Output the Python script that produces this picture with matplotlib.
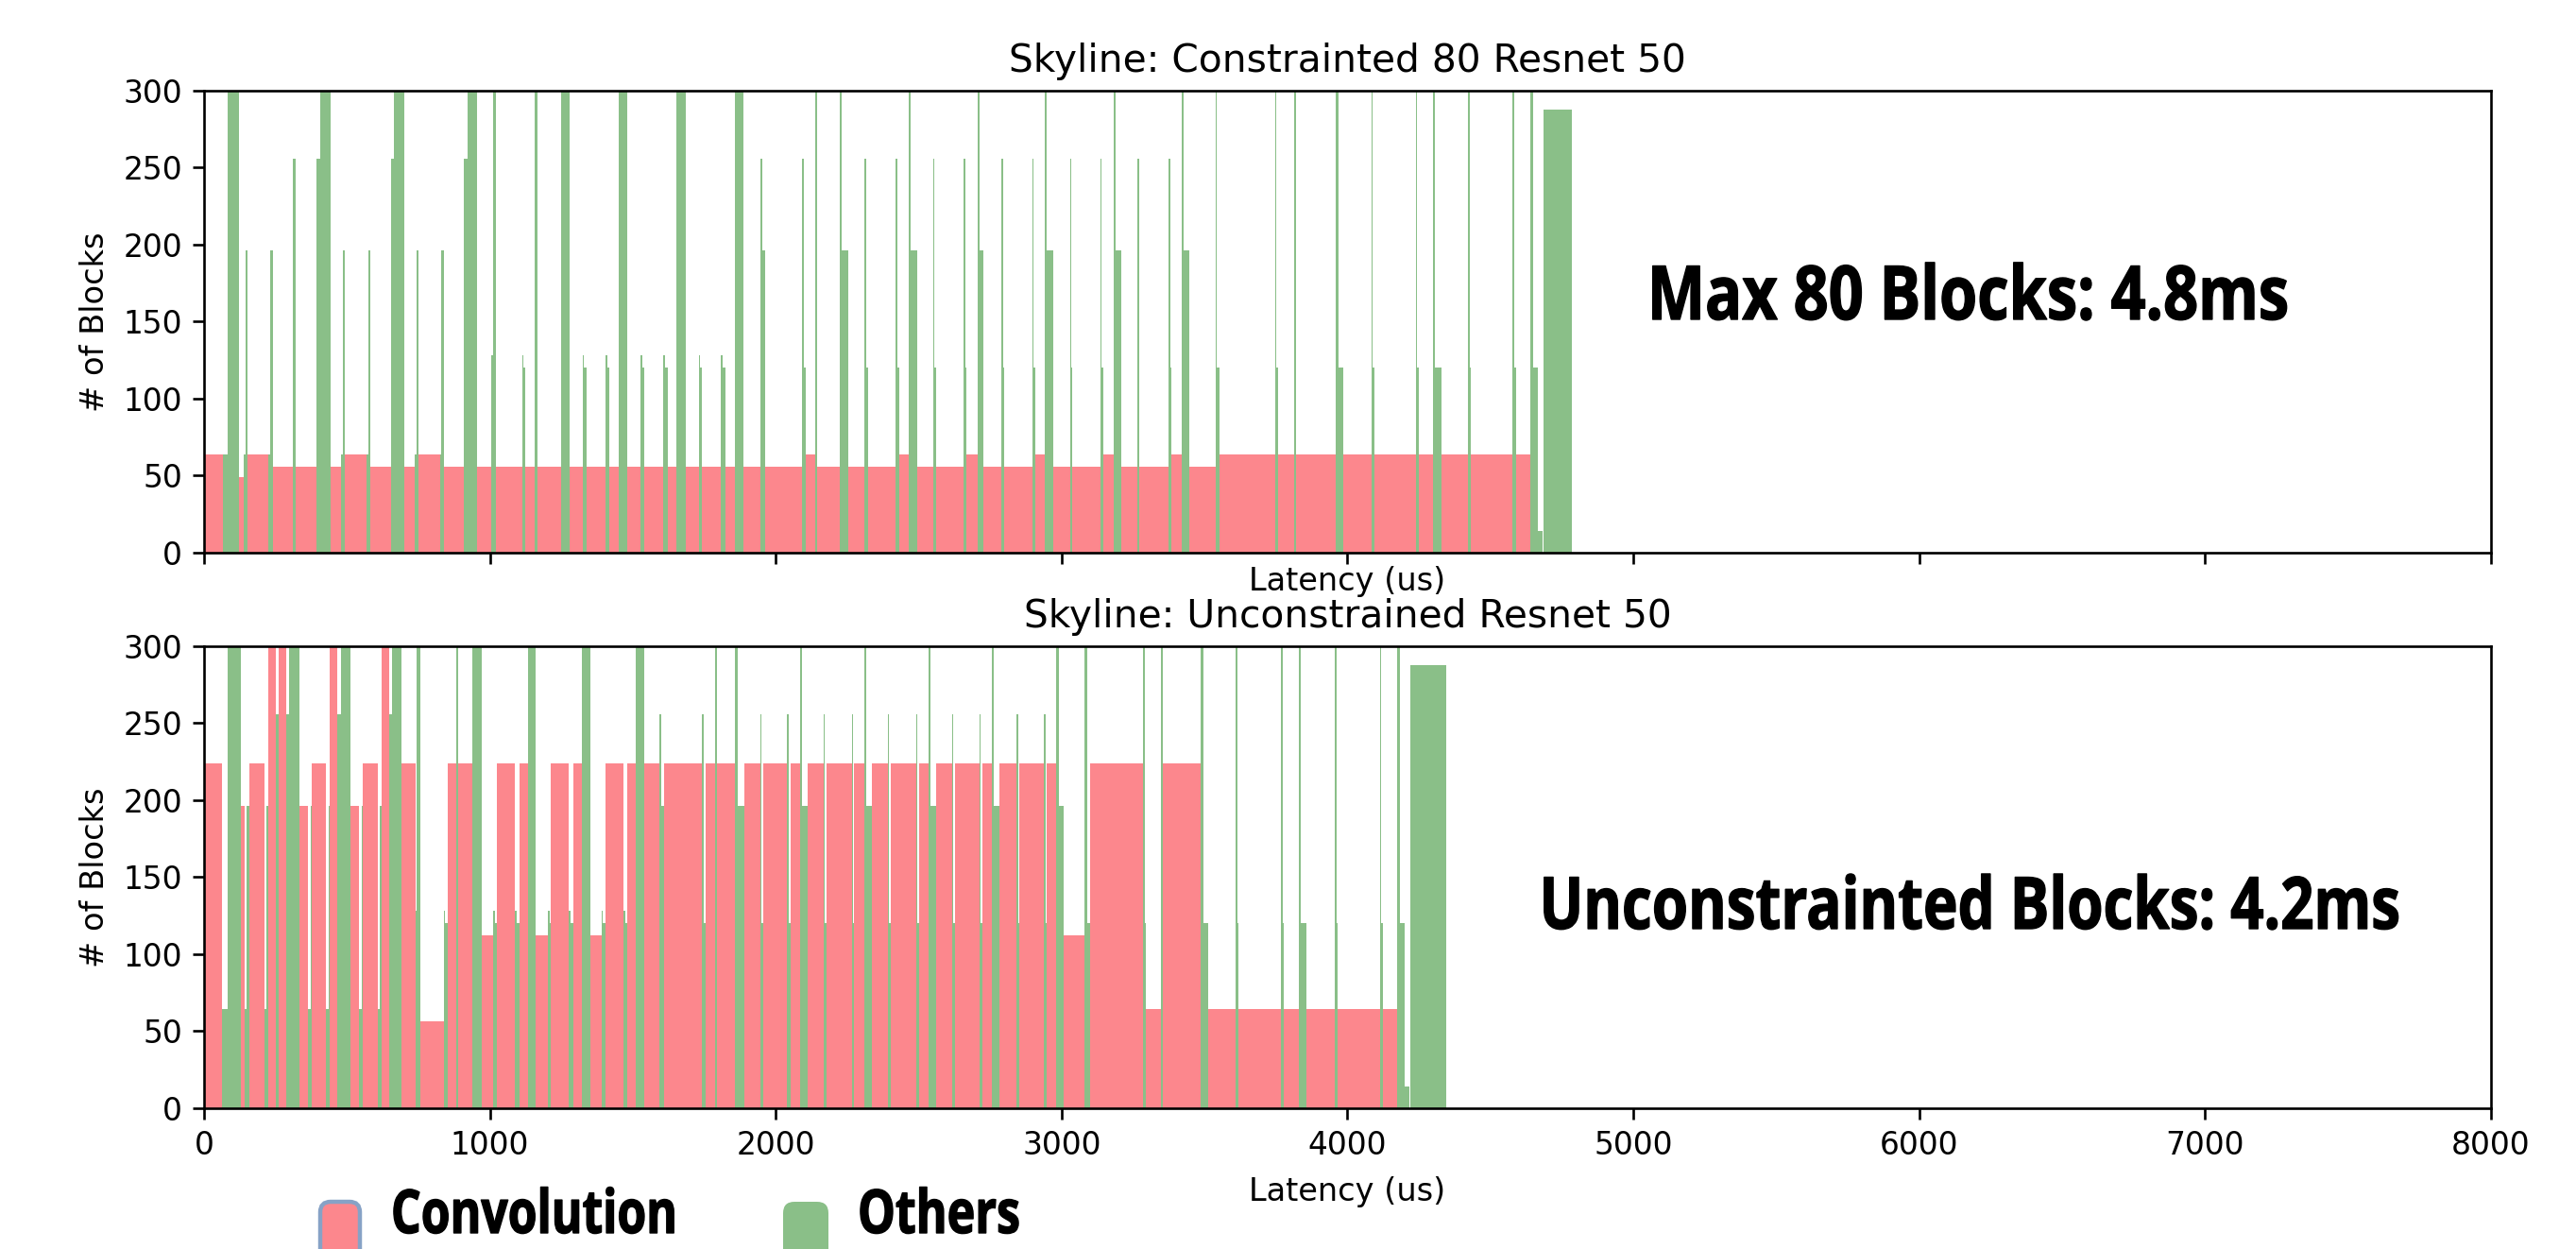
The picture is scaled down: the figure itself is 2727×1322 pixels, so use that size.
import numpy as np
import matplotlib
matplotlib.use("Agg")
import matplotlib.pyplot as plt
from matplotlib import patheffects
from matplotlib.transforms import Affine2D, IdentityTransform
from matplotlib.patches import FancyBboxPatch

# skyline data: kernel start (us), blocks in flight, kind (C = convolution, O = others)
top_start = [0, 66, 83, 121, 138, 146, 151, 225, 232, 240, 311, 322, 394, 407, 443, 479, 485, 494,
             568, 574, 581, 653, 664, 699, 736, 743, 750, 825, 831, 838, 910, 921, 956, 1006, 1011,
             1021, 1113, 1118, 1125, 1158, 1165, 1249, 1280, 1324, 1330, 1337, 1404, 1410, 1419,
             1452, 1482, 1526, 1532, 1540, 1605, 1612, 1622, 1652, 1684, 1730, 1736, 1743, 1809,
             1815, 1824, 1856, 1887, 1948, 1954, 1964, 2091, 2097, 2106, 2139, 2146, 2225, 2231,
             2253, 2310, 2316, 2324, 2420, 2425, 2432, 2465, 2473, 2495, 2550, 2555, 2562, 2657,
             2662, 2668, 2705, 2712, 2726, 2790, 2795, 2800, 2897, 2902, 2907, 2941, 2948, 2970,
             3030, 3034, 3037, 3136, 3140, 3145, 3182, 3189, 3208, 3266, 3270, 3273, 3374, 3379,
             3384, 3421, 3428, 3448, 3539, 3544, 3551, 3746, 3751, 3758, 3812, 3820, 3960, 3967,
             3985, 4083, 4088, 4093, 4238, 4243, 4248, 4300, 4307, 4329, 4422, 4427, 4432, 4578,
             4584, 4589, 4638, 4648, 4666, 4681, 4687]
top_blocks = [64, 64, 512, 49, 64, 196, 64, 64, 196, 56, 256, 56, 256, 512, 56, 64, 196, 64,
              64, 196, 56, 256, 512, 56, 64, 196, 64, 64, 196, 56, 256, 512, 56, 128, 512,
              56, 128, 120, 56, 512, 56, 512, 56, 128, 120, 56, 128, 120, 56,
              512, 56, 128, 120, 56, 128, 120, 56, 512, 56, 128, 120, 56, 128,
              120, 56, 512, 56, 256, 196, 56, 256, 120, 64, 512, 56, 512, 196,
              56, 256, 120, 56, 256, 120, 64, 512, 196, 56, 256, 120, 56, 256,
              120, 64, 512, 196, 56, 256, 120, 56, 256, 120, 64, 512, 196, 56,
              256, 120, 56, 256, 120, 64, 512, 196, 56, 256, 120, 56, 256, 120,
              64, 512, 196, 56, 512, 120, 64, 512, 120, 64, 512, 64, 512, 120,
              64, 512, 120, 64, 512, 120, 64, 512, 120, 64, 512, 120, 64, 512,
              120, 64, 512, 120, 14, 0, 288]
top_kind = ["C", "O", "O", "C", "O", "O", "C", "O", "O", "C", "O", "C", "O", "O", "C", "O", "O", "C",
            "O", "O", "C", "O", "O", "C", "O", "O", "C", "O", "O", "C", "O", "O", "C", "O", "O",
            "C", "O", "O", "C", "O", "C", "O", "C", "O", "O", "C", "O", "O", "C",
            "O", "C", "O", "O", "C", "O", "O", "C", "O", "C", "O", "O", "C", "O",
            "O", "C", "O", "C", "O", "O", "C", "O", "O", "C", "O", "C", "O", "O",
            "C", "O", "O", "C", "O", "O", "C", "O", "O", "C", "O", "O", "C", "O",
            "O", "C", "O", "O", "C", "O", "O", "C", "O", "O", "C", "O", "O", "C",
            "O", "O", "C", "O", "O", "C", "O", "O", "C", "O", "O", "C", "O", "O",
            "C", "O", "O", "C", "O", "O", "C", "O", "O", "C", "O", "C", "O", "O",
            "C", "O", "O", "C", "O", "O", "C", "O", "O", "C", "O", "O", "C", "O",
            "O", "C", "O", "O", "O", "O", "O"]
top_end = 4786

bot_start = [0, 64, 83, 129, 143, 150, 160, 210, 217, 225, 250, 261, 287, 298, 333, 364, 372, 377,
             427, 435, 441, 465, 479, 513, 543, 551, 556, 607, 614, 620, 647, 656, 692, 739, 745,
             756, 838, 843, 851, 882, 888, 940, 973, 1012, 1017, 1026, 1087, 1095, 1103, 1133,
             1161, 1203, 1208, 1214, 1277, 1283, 1291, 1321, 1352, 1390, 1396, 1403, 1467, 1474,
             1482, 1511, 1541, 1594, 1600, 1608, 1740, 1748, 1754, 1787, 1794, 1858, 1867, 1889,
             1946, 1951, 1957, 2040, 2046, 2053, 2084, 2092, 2112, 2167, 2172, 2178, 2266, 2270,
             2275, 2310, 2317, 2335, 2391, 2396, 2402, 2490, 2495, 2500, 2535, 2542, 2561, 2616,
             2621, 2626, 2712, 2717, 2722, 2756, 2763, 2783, 2842, 2847, 2852, 2938, 2943, 2948,
             2982, 2990, 3007, 3081, 3089, 3099, 3284, 3291, 3295, 3347, 3354, 3487, 3495, 3513,
             3610, 3615, 3620, 3768, 3773, 3778, 3831, 3838, 3857, 3956, 3961, 3965, 4113, 4118,
             4123, 4175, 4182, 4201, 4216, 4221]
bot_blocks = [224, 64, 512, 196, 64, 196, 224, 64, 196, 512, 256, 512, 256, 512, 196, 64, 196, 224,
              64, 196, 512, 256, 512, 196, 64, 196, 224, 64, 196, 512, 256, 512, 224, 128, 512,
              56, 128, 120, 224, 512, 224, 512, 112, 128, 120, 224, 128, 120, 224, 512,
              112, 128, 120, 224, 128, 120, 224, 512, 112, 128, 120, 224, 128, 120,
              224, 512, 224, 256, 196, 224, 256, 120, 224, 512, 224, 512, 196, 224,
              256, 120, 224, 256, 120, 224, 512, 196, 224, 256, 120, 224, 256, 120,
              224, 512, 196, 224, 256, 120, 224, 256, 120, 224, 512, 196, 224, 256,
              120, 224, 256, 120, 224, 512, 196, 224, 256, 120, 224, 256, 120, 224,
              512, 196, 112, 512, 120, 224, 512, 120, 64, 512, 224, 512, 120, 64,
              512, 120, 64, 512, 120, 64, 512, 120, 64, 512, 120, 64, 512, 120,
              64, 512, 120, 14, 0, 288]
bot_kind = ["C", "O", "O", "C", "O", "O", "C", "O", "O", "C", "O", "C", "O", "O", "C", "O", "O", "C",
            "O", "O", "C", "O", "O", "C", "O", "O", "C", "O", "O", "C", "O", "O", "C", "O", "O",
            "C", "O", "O", "C", "O", "C", "O", "C", "O", "O", "C", "O", "O", "C", "O",
            "C", "O", "O", "C", "O", "O", "C", "O", "C", "O", "O", "C", "O", "O",
            "C", "O", "C", "O", "O", "C", "O", "O", "C", "O", "C", "O", "O", "C",
            "O", "O", "C", "O", "O", "C", "O", "O", "C", "O", "O", "C", "O", "O",
            "C", "O", "O", "C", "O", "O", "C", "O", "O", "C", "O", "O", "C", "O",
            "O", "C", "O", "O", "C", "O", "O", "C", "O", "O", "C", "O", "O", "C",
            "O", "O", "C", "O", "O", "C", "O", "O", "C", "O", "C", "O", "O", "C",
            "O", "O", "C", "O", "O", "C", "O", "O", "C", "O", "O", "C", "O", "O",
            "C", "O", "O", "O", "O", "O"]
bot_end = 4344

titles = ["Skyline: Constrainted 80 Resnet 50", "Skyline: Unconstrained Resnet 50"]
notes = ["Max 80 Blocks: 4.8ms", "Unconstrainted Blocks: 4.2ms"]
legend_names = ["Convolution", "Others"]

colors = {"C": "#fc878d", "O": "#8abf88"}

S = 2.37
plt.rcParams.update({
    "font.family": ["DejaVu Sans"],
    "font.size": 10 * S,
    "axes.titlesize": 12.4 * S,
    "axes.labelsize": 10.2 * S,
    "xtick.labelsize": 10 * S,
    "ytick.labelsize": 10 * S,
    "axes.linewidth": 0.8 * S,
    "xtick.major.size": 3.5 * S,
    "ytick.major.size": 3.5 * S,
    "xtick.major.width": 0.8 * S,
    "ytick.major.width": 0.8 * S,
    "xtick.major.pad": 3.5 * S,
    "ytick.major.pad": 3.5 * S,
    "axes.titlepad": 6 * S,
    "axes.labelpad": 4 * S,
})


class Squeeze(patheffects.AbstractPathEffect):
    """draw text narrower (condensed look) around x0, with a thin stroke to thicken it"""
    def __init__(self, x0, sx, lw):
        super().__init__()
        self.x0, self.sx, self.lw = x0, sx, lw

    def draw_path(self, renderer, gc, tpath, affine, rgbFace=None):
        aff = affine + Affine2D().translate(-self.x0, 0).scale(self.sx, 1).translate(self.x0, 0)
        gc0 = renderer.new_gc()
        gc0.copy_properties(gc)
        gc0.set_linewidth(self.lw)
        gc0.set_foreground(rgbFace)
        gc0.set_joinstyle("round")
        renderer.draw_path(gc0, tpath, aff, rgbFace)
        gc0.restore()


W, H = 2727, 1322
fig = plt.figure(figsize=(W / 100, H / 100), dpi=100)
ax1 = fig.add_axes([0.0792, 0.5575, 0.8878, 0.3699])
ax2 = fig.add_axes([0.0792, 0.1130, 0.8878, 0.3696])


def skyline(ax, start, blocks, kind, end):
    start = np.array(start, dtype=float)
    width = np.diff(np.append(start, end))
    ax.bar(start, blocks, width=width, align="edge", linewidth=0,
           color=[colors[k] for k in kind])
    ax.set_xlim(0, 8000)
    ax.set_ylim(0, 300)
    ax.set_xticks(np.arange(0, 8001, 1000))
    ax.set_yticks(np.arange(0, 301, 50))
    ax.set_ylabel("# of Blocks")


skyline(ax1, top_start, top_blocks, top_kind, top_end)
skyline(ax2, bot_start, bot_blocks, bot_kind, bot_end)
ax1.tick_params(labelbottom=False)
ax1.set_xlabel("Latency (us)", labelpad=2.0)
ax2.set_xlabel("Latency (us)", labelpad=12.0)
ax1.set_title(titles[0])
ax2.set_title(titles[1])

big = dict(family=["Open Sans", "DejaVu Sans"], weight="bold", color="black")


def cond_text(x_px, y_px, s, size, sx, ha="center", va="baseline", lw=1.0):
    fig.text(x_px / W, y_px / H, s, fontsize=size, ha=ha, va=va,
             path_effects=[Squeeze(x_px, sx, lw)], **big)


# big annotations, squeezed about their centre
cond_text(2083, 984, notes[0], 57, 0.82)
cond_text(2085, 339, notes[1], 55, 0.81)
# hand-made legend under the lower plot (kept just inside the bottom edge)
cond_text(414, 1, legend_names[0], 46, 0.78, ha="left", va="bottom")
cond_text(908, 1, legend_names[1], 46, 0.785, ha="left", va="bottom")

fig.add_artist(FancyBboxPatch((339, -30), 42, 80, boxstyle="round,pad=0,rounding_size=11",
                              fc=colors["C"], ec="#87a2c6", lw=3.2, transform=IdentityTransform()))
fig.add_artist(FancyBboxPatch((829, -30), 48, 80, boxstyle="round,pad=0,rounding_size=12",
                              fc=colors["O"], ec="none", transform=IdentityTransform()))

fig.savefig("out.png", dpi=100)
